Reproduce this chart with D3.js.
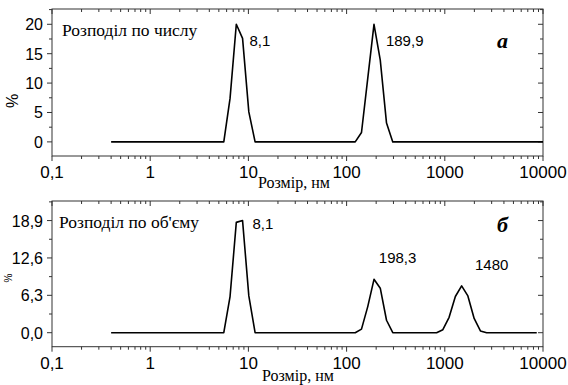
<!DOCTYPE html>
<html>
<head>
<meta charset="utf-8">
<script src="https://cdn.jsdelivr.net/npm/d3@7"></script>
<style>
body { margin: 0; background: #fff; }
svg { display: block; }
.tick_lab { font-family: "Liberation Sans", Arial, sans-serif; fill: #000; }
.serif { font-family: "Liberation Serif", "Times New Roman", serif; fill: #000; }
</style>
</head>
<body>
<svg id="chart" width="568" height="385"></svg>
<script>
//## data
var sizeA = [0.4, 5.615, 6.503, 7.531, 8.721, 10.1, 11.7, 122.4, 141.8, 164.2, 190.1, 220.2, 255.0, 295.3, 10000];
var numberA = [0, 0, 7.4, 20, 17.6, 5.1, 0, 0, 1.6, 10.8, 20, 13.9, 3.2, 0, 0];

var sizeB = [0.4, 5.615, 6.503, 7.531, 8.721, 10.1, 11.7, 122.4, 141.8, 164.2, 190.1, 220.2, 255.0, 295.3,
             825.0, 955.4, 1106, 1281, 1484, 1718, 1990, 2305, 2669, 8635];
var volumeB = [0, 0, 6.1, 18.6, 18.9, 6.2, 0, 0, 0.6, 4.4, 9.0, 7.5, 2.1, 0,
               0, 0.5, 2.6, 6.1, 7.9, 6.2, 2.4, 0.3, 0, 0];

var xTicks = [0.1, 1, 10, 100, 1000, 10000];
var xTickLabels = ["0,1", "1", "10", "100", "1000", "10000"];
var yTicksA = [0, 5, 10, 15, 20];
var yTickLabelsA = ["0", "5", "10", "15", "20"];
var yTicksB = [0, 6.3, 12.6, 18.9];
var yTickLabelsB = ["0,0", "6,3", "12,6", "18,9"];

var peakLabelsA = [{x: 8.1, t: "8,1"}, {x: 189.9, t: "189,9"}];
var peakLabelsB = [{x: 8.1, t: "8,1"}, {x: 198.3, t: "198,3"}, {x: 1480, t: "1480"}];

var svg = d3.select("#chart");
var frameCol = "#333";

var x = d3.scaleLog().domain([0.1, 10000]).range([52, 543]);

//## minor log ticks 2..9 in every decade
var xMinor = [];
for (var d = 0; d < xTicks.length - 1; d++) {
    for (var m = 2; m <= 9; m++) {
        xMinor.push(xTicks[d] * m);
    }
}

function makePanel(opt) {
    var y = d3.scaleLinear().domain(opt.yDomain).range([opt.bottom, opt.top]);
    var g = svg.append("g");
    var yMinor = [];
    var step = opt.yTicks[1] - opt.yTicks[0];
    for (var v = -step / 2; v < opt.yDomain[1]; v += step) {
        if (v > opt.yDomain[0]) yMinor.push(v);
    }

    //## frame
    g.append("rect")
        .attr("x", x.range()[0]).attr("y", opt.top)
        .attr("width", x.range()[1] - x.range()[0])
        .attr("height", opt.bottom - opt.top)
        .attr("fill", "none")
        .attr("stroke", frameCol)
        .attr("stroke-width", 1);

    //## bottom axis (outward) and top axis (inward), same direction
    [opt.bottom, opt.top].forEach(function (yy) {
        g.selectAll(null).data(xTicks).enter().append("line")
            .attr("x1", function (d) { return x(d); })
            .attr("x2", function (d) { return x(d); })
            .attr("y1", yy).attr("y2", yy + 5)
            .attr("stroke", frameCol);
        g.selectAll(null).data(xMinor).enter().append("line")
            .attr("x1", function (d) { return x(d); })
            .attr("x2", function (d) { return x(d); })
            .attr("y1", yy).attr("y2", yy + 3)
            .attr("stroke", frameCol);
    });

    //## left axis (outward) and right axis (inward)
    [x.range()[0], x.range()[1]].forEach(function (xx) {
        g.selectAll(null).data(opt.yTicks).enter().append("line")
            .attr("x1", xx - 5).attr("x2", xx)
            .attr("y1", function (d) { return y(d); })
            .attr("y2", function (d) { return y(d); })
            .attr("stroke", frameCol);
        g.selectAll(null).data(yMinor).enter().append("line")
            .attr("x1", xx - 3).attr("x2", xx)
            .attr("y1", function (d) { return y(d); })
            .attr("y2", function (d) { return y(d); })
            .attr("stroke", frameCol);
    });

    //## tick labels
    g.selectAll(null).data(xTicks).enter().append("text")
        .attr("class", "tick_lab")
        .attr("x", function (d) { return x(d); })
        .attr("y", opt.bottom + 22)
        .attr("text-anchor", "middle")
        .style("font-size", "17px")
        .text(function (d, i) { return xTickLabels[i]; });

    g.selectAll(null).data(opt.yTicks).enter().append("text")
        .attr("class", "tick_lab")
        .attr("x", x.range()[0] - 9)
        .attr("y", function (d) { return y(d) + 6; })
        .attr("text-anchor", "end")
        .style("font-size", "16px")
        .text(function (d, i) { return opt.yLabels[i]; });

    //## data line
    var line = d3.line()
        .x(function (d) { return x(d[0]); })
        .y(function (d) { return y(d[1]); });
    g.append("path")
        .datum(d3.zip(opt.xs, opt.ys))
        .attr("d", line)
        .attr("fill", "none")
        .attr("stroke", "#000")
        .attr("stroke-width", 1.6)
        .attr("stroke-linejoin", "round");

    //## peak values
    g.selectAll(null).data(opt.peaks).enter().append("text")
        .attr("class", "tick_lab")
        .attr("x", function (d, i) { return x(d.x) + opt.peakDx[i]; })
        .attr("y", function (d, i) { return opt.peakY[i]; })
        .style("font-size", "15px")
        .text(function (d) { return d.t; });

    //## titles
    g.append("text")
        .attr("class", "serif")
        .attr("x", opt.titleX).attr("y", opt.titleY)
        .style("font-size", "17.5px")
        .text(opt.title);

    g.append("text")
        .attr("class", "serif")
        .attr("x", 497).attr("y", opt.letterY)
        .style("font-size", "22px")
        .style("font-weight", "bold")
        .style("font-style", "italic")
        .text(opt.letter);

    g.append("text")
        .attr("class", "serif")
        .attr("x", opt.xLabX).attr("y", opt.xLabY)
        .style("font-size", "16px")
        .text("Розмір, нм");

    g.append("text")
        .attr("class", "tick_lab")
        .attr("transform", "translate(" + opt.yLabX + "," + opt.yLabY + ") rotate(-90)")
        .attr("text-anchor", "middle")
        .style("font-size", opt.yLabSize)
        .text("%");
}

makePanel({
    top: 9, bottom: 156, yDomain: [-2.4, 22.6],
    yTicks: yTicksA, yLabels: yTickLabelsA,
    xs: sizeA, ys: numberA,
    peaks: peakLabelsA, peakDx: [10, 12], peakY: [46, 46],
    title: "Розподіл по числу", titleX: 62, titleY: 36,
    letter: "a", letterY: 48,
    xLabX: 258, xLabY: 188,
    yLabX: 18, yLabY: 101, yLabSize: "16px"
});

makePanel({
    top: 201, bottom: 346.7, yDomain: [-2.36, 22.2],
    yTicks: yTicksB, yLabels: yTickLabelsB,
    xs: sizeB, ys: volumeB,
    peaks: peakLabelsB, peakDx: [13, 3, 13.5], peakY: [229, 263, 270],
    title: "Розподіл по об'єму", titleX: 59, titleY: 228,
    letter: "б", letterY: 232,
    xLabX: 262, xLabY: 381,
    yLabX: 12, yLabY: 278, yLabSize: "10px"
});
</script>
</body>
</html>
